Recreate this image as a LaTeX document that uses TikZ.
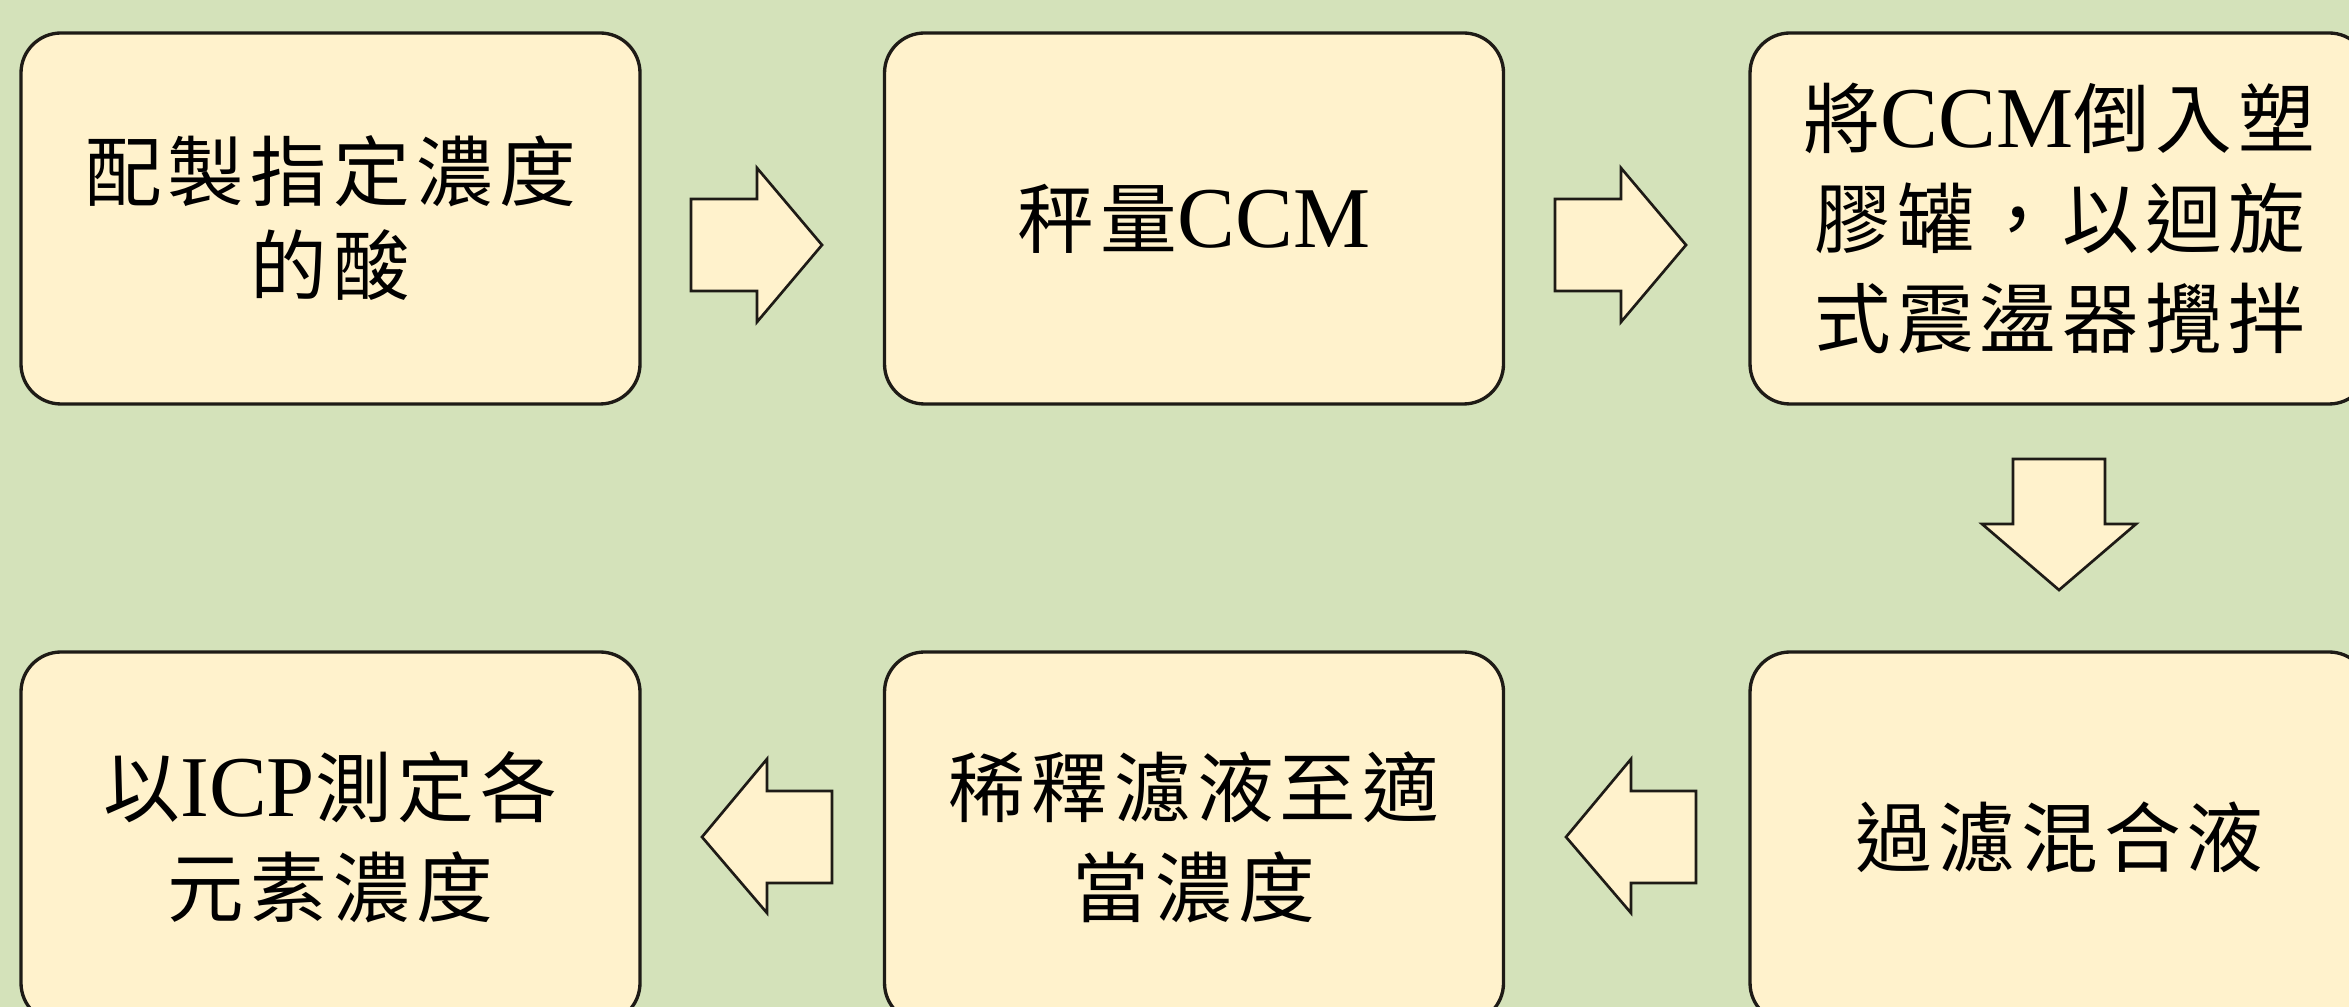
\documentclass[tikz,border=0pt]{standalone}
\usepackage{fontspec}
\setmainfont{Noto Sans CJK TC}
\newfontfamily\cjk[LetterSpace=8]{Noto Sans CJK TC}
\newfontfamily\lat{Liberation Serif}
\definecolor{bgc}{HTML}{D4E2BA}
\definecolor{boxc}{HTML}{FFF2CC}
\definecolor{edgec}{HTML}{1E1B16}
\newcommand\latin[1]{{\lat\fontsize{26}{28}\selectfont #1}}
\tikzset{
  stepbox/.style={draw=edgec, line width=1pt, fill=boxc, rounded corners=12pt,
    minimum width=185.7pt, minimum height=111.3pt, inner sep=0pt,
    align=center, font=\cjk\fontsize{23}{28.2}\selectfont},
  widelines/.style={font=\cjk\fontsize{23}{30}\selectfont},
  blockarrow/.style={draw=edgec, line width=0.8pt, fill=boxc, line join=miter}
}
\begin{document}
\begin{tikzpicture}[x=0.3pt,y=-0.3pt]
\useasboundingbox (0,0) rectangle (2349,1007);
\fill[bgc] (0,0) rectangle (2349,1007);
\clip (0,0) rectangle (2349,1007);
% boxes
\node[stepbox] (b1) at (330.5,218.5) {配製指定濃度\\的酸};
\node[stepbox] (b2) at (1194,218.5) {秤量\latin{CCM}};
\node[stepbox,widelines] (b3) at (2059.5,218.5) {將\latin{CCM}倒入塑\\膠罐，以迴旋\\式震盪器攪拌};
\node[stepbox] (b6) at (2059.5,837.5) {過濾混合液};
\node[stepbox,widelines] (b5) at (1194,837.5) {稀釋濾液至適\\當濃度};
\node[stepbox,widelines] (b4) at (330.5,837.5) {以\latin{ICP}測定各\\元素濃度};
% block arrows
\draw[blockarrow] (691,199) -- (757,199) -- (757,168) -- (822,245) -- (757,322) -- (757,291) -- (691,291) -- cycle;
\draw[blockarrow] (1555,199) -- (1621,199) -- (1621,168) -- (1686,245) -- (1621,322) -- (1621,291) -- (1555,291) -- cycle;
\draw[blockarrow] (2013,459) -- (2105,459) -- (2105,524) -- (2136,524) -- (2059,590) -- (1982,524) -- (2013,524) -- cycle;
\draw[blockarrow] (1696,791) -- (1631,791) -- (1631,759) -- (1566,837) -- (1631,913) -- (1631,883) -- (1696,883) -- cycle;
\draw[blockarrow] (832,791) -- (767,791) -- (767,759) -- (702,837) -- (767,913) -- (767,883) -- (832,883) -- cycle;
\end{tikzpicture}
\end{document}
